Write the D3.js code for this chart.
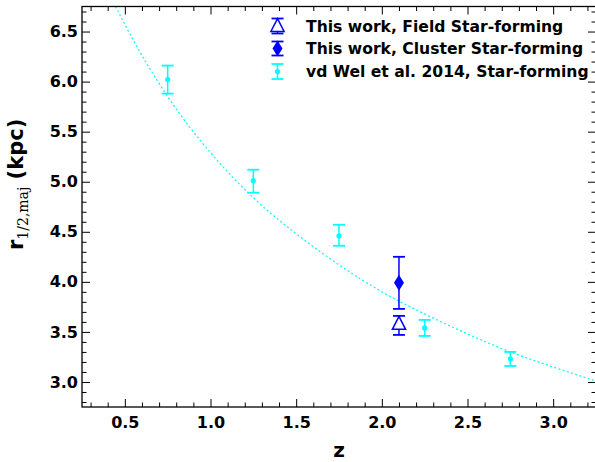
<!DOCTYPE html>
<html><head><meta charset="utf-8">
<script src="https://cdn.jsdelivr.net/npm/d3@7"></script>
<style>body{margin:0;background:#fff}svg{display:block}</style>
</head><body>
<svg id="c" width="595" height="462"></svg>
<script>
// vd Wel et al. 2014 star-forming
const vdwZ = [0.75, 1.25, 1.75, 2.25, 2.75];
const vdwR = [6.02, 5.01, 4.46, 3.54, 3.23];
const vdwLo = [5.88, 4.89, 4.36, 3.46, 3.16];
const vdwHi = [6.16, 5.12, 4.57, 3.62, 3.30];
// This work
const clusterZ = [2.10], clusterR = [3.99], clusterLo = [3.73], clusterHi = [4.25];
const fieldZ = [2.10], fieldR = [3.58], fieldLo = [3.47], fieldHi = [3.66];
// dotted trend line
const fitZ = [0.40, 0.50, 0.75, 1.00, 1.25, 1.50, 1.75, 2.00, 2.25, 2.50, 2.75, 3.00, 3.25];
const fitR = [6.91, 6.57, 5.85, 5.29, 4.84, 4.48, 4.17, 3.90, 3.68, 3.48, 3.30, 3.15, 3.01];
const xTicks = [0.5, 1.0, 1.5, 2.0, 2.5, 3.0];
const yTicks = [3.0, 3.5, 4.0, 4.5, 5.0, 5.5, 6.0, 6.5];
const legendLabels = ["This work, Field Star-forming", "This work, Cluster Star-forming", "vd Wel et al. 2014, Star-forming"];

const L = 82, R = 596, T = 6.5, B = 407;
const svg = d3.select("#c");
const x = d3.scaleLinear().domain([0.25, 3.25]).range([L, R]);
const y = d3.scaleLinear().domain([2.75, 6.75]).range([B, T]);
const FONT = "'DejaVu Sans', sans-serif";

svg.append("defs").append("clipPath").attr("id", "clip")
  .append("rect").attr("x", L).attr("y", T).attr("width", R - L).attr("height", B - T);

// minor ticks
const xMinor = d3.range(3, 33).map(d => d / 10).filter(d => Math.abs(d * 2 - Math.round(d * 2)) > 1e-6);
const yMinor = d3.range(28, 68).map(d => d / 10).filter(d => Math.abs(d * 2 - Math.round(d * 2)) > 1e-6);

function axes() {
  const g = svg.append("g").attr("font-family", FONT).attr("font-weight", "bold");
  const bottom = d3.axisBottom(x).tickValues(xTicks).tickSizeInner(-8).tickSizeOuter(0).tickPadding(10).tickFormat(d3.format(".1f"));
  const top = d3.axisTop(x).tickValues(xTicks).tickSizeInner(-8).tickSizeOuter(0).tickFormat("");
  const left = d3.axisLeft(y).tickValues(yTicks).tickSizeInner(-8).tickSizeOuter(0).tickPadding(4).tickFormat(d3.format(".1f"));
  const right = d3.axisRight(y).tickValues(yTicks).tickSizeInner(-8).tickSizeOuter(0).tickFormat("");
  const bm = d3.axisBottom(x).tickValues(xMinor).tickSizeInner(-4.5).tickSizeOuter(0).tickFormat("");
  const tm = d3.axisTop(x).tickValues(xMinor).tickSizeInner(-4.5).tickSizeOuter(0).tickFormat("");
  const lm = d3.axisLeft(y).tickValues(yMinor).tickSizeInner(-4.5).tickSizeOuter(0).tickFormat("");
  const rm = d3.axisRight(y).tickValues(yMinor).tickSizeInner(-4.5).tickSizeOuter(0).tickFormat("");
  const gb = g.append("g").attr("transform", `translate(0,${B})`).call(bottom);
  g.append("g").attr("transform", `translate(0,${T})`).call(top);
  const gl = g.append("g").attr("transform", `translate(${L},0)`).call(left);
  g.append("g").attr("transform", `translate(${R},0)`).call(right);
  g.append("g").attr("transform", `translate(0,${B})`).call(bm);
  g.append("g").attr("transform", `translate(0,${T})`).call(tm);
  g.append("g").attr("transform", `translate(${L},0)`).call(lm);
  g.append("g").attr("transform", `translate(${R},0)`).call(rm);
  g.selectAll(".domain").remove();
  g.selectAll(".tick line").attr("stroke", "#000").attr("stroke-width", 1);
  gb.selectAll("text").attr("font-size", 16).attr("fill", "#000").attr("font-family", FONT).attr("font-weight", "bold");
  gl.selectAll("text").attr("font-size", 16).attr("fill", "#000").attr("font-family", FONT).attr("font-weight", "bold");
  svg.append("rect").attr("x", L).attr("y", T).attr("width", R - L).attr("height", B - T)
    .attr("fill", "none").attr("stroke", "#000").attr("stroke-width", 1.3);
}

// fit line
const fitData = fitZ.map((z, i) => [z, fitR[i]]);
svg.append("path").datum(fitData).attr("clip-path", "url(#clip)")
  .attr("d", d3.line().x(d => x(d[0])).y(d => y(d[1])).curve(d3.curveMonotoneX))
  .attr("fill", "none").attr("stroke", "#00ffff").attr("stroke-width", 1.2).attr("stroke-dasharray", "2,2.4");

function errbar(g, cx, y0, y1, color, cap) {
  g.append("line").attr("x1", cx).attr("x2", cx).attr("y1", y0).attr("y2", y1).attr("stroke", color).attr("stroke-width", 1.5);
  [y0, y1].forEach(yy => g.append("line").attr("x1", cx - cap).attr("x2", cx + cap).attr("y1", yy).attr("y2", yy).attr("stroke", color).attr("stroke-width", 1.8));
}
const tri = (cx, cy, s) => `M${cx},${cy - s * 0.62}L${cx + s * 0.55},${cy + s * 0.45}L${cx - s * 0.55},${cy + s * 0.45}Z`;
const dia = (cx, cy, w, h) => `M${cx},${cy - h / 2}L${cx + w / 2},${cy}L${cx},${cy + h / 2}L${cx - w / 2},${cy}Z`;

const gp = svg.append("g");
vdwZ.forEach((z, i) => {
  errbar(gp, x(z), y(vdwLo[i]), y(vdwHi[i]), "#00ffff", 6);
  gp.append("circle").attr("cx", x(z)).attr("cy", y(vdwR[i])).attr("r", 2.6).attr("fill", "#00ffff");
});
clusterZ.forEach((z, i) => {
  errbar(gp, x(z), y(clusterLo[i]), y(clusterHi[i]), "#0000ff", 6);
  gp.append("path").attr("d", dia(x(z), y(clusterR[i]), 10, 16)).attr("fill", "#0000ff");
});
fieldZ.forEach((z, i) => {
  errbar(gp, x(z), y(fieldLo[i]), y(fieldHi[i]), "#0000ff", 6);
  gp.append("path").attr("d", tri(x(z), y(fieldR[i]), 12)).attr("fill", "#fff").attr("stroke", "#0000ff").attr("stroke-width", 1.5);
});

axes();

// legend
const lg = svg.append("g");
const rows = [26, 48.5, 71.5];
const mx = 277.5;
errbar(lg, mx, rows[0] - 7.5, rows[0] + 7.5, "#0000ff", 6);
lg.append("path").attr("d", tri(mx, rows[0], 12)).attr("fill", "#fff").attr("stroke", "#0000ff").attr("stroke-width", 1.5);
errbar(lg, mx, rows[1] - 7, rows[1] + 7, "#0000ff", 6);
lg.append("path").attr("d", dia(mx, rows[1], 10, 16)).attr("fill", "#0000ff");
errbar(lg, mx, rows[2] - 7.5, rows[2] + 7.5, "#00ffff", 6);
lg.append("circle").attr("cx", mx).attr("cy", rows[2]).attr("r", 2.6).attr("fill", "#00ffff");
legendLabels.forEach((t, i) => {
  lg.append("text").attr("x", 306).attr("y", rows[i]).attr("dy", "0.36em")
    .attr("font-family", FONT).attr("font-weight", "bold").attr("font-size", 15.6).attr("fill", "#000").text(t);
});

// axis titles
svg.append("text").attr("x", (L + R) / 2).attr("y", 457).attr("text-anchor", "middle")
  .attr("font-family", FONT).attr("font-weight", "bold").attr("font-size", 20).attr("fill", "#000").text("z");
const yt = svg.append("text").attr("transform", "translate(23,250) rotate(-90)")
  .attr("font-family", FONT).attr("font-weight", "bold").attr("font-size", 21).attr("fill", "#000");
yt.append("tspan").text("r");
yt.append("tspan").attr("font-family", "'DejaVu Serif', serif").attr("font-weight", "normal").attr("font-size", 14).attr("dy", 5).text("1/2,maj");
yt.append("tspan").attr("dy", -5).text(" (kpc)");
</script>
</body></html>
